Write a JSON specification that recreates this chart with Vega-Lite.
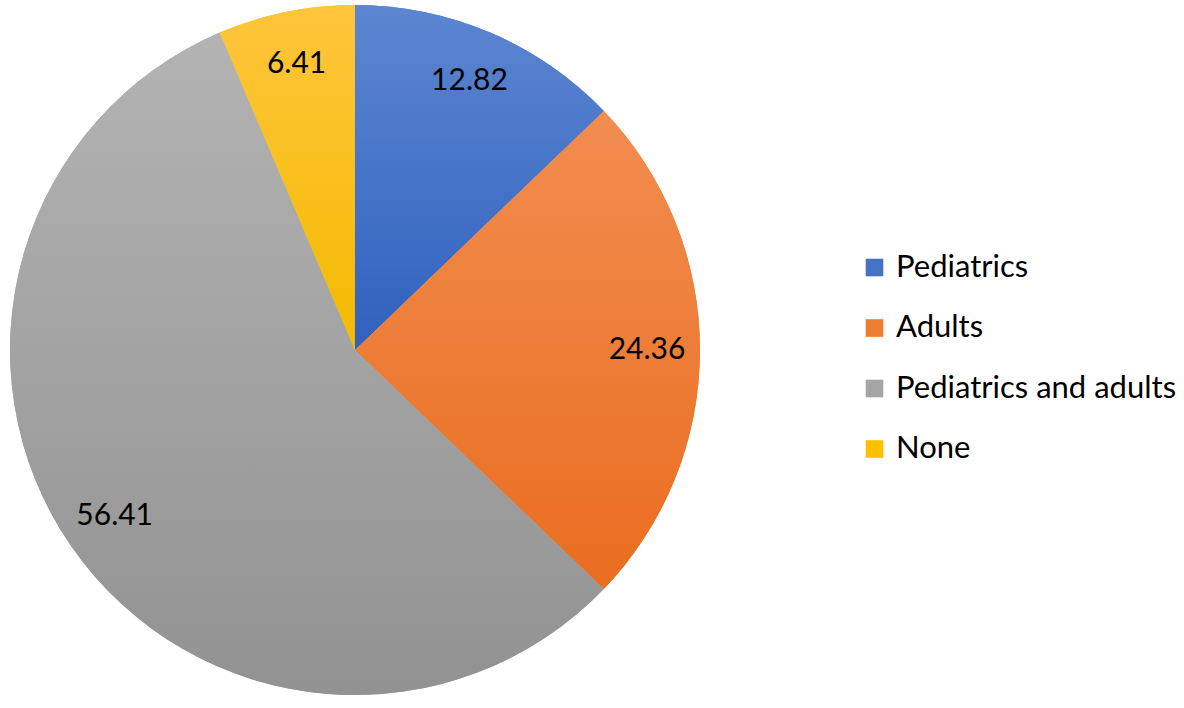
{
  "$schema": "https://vega.github.io/schema/vega-lite/v6.json",
  "width": 710,
  "height": 700,
  "padding": 0,
  "background": "white",
  "data": {
    "values": [
      {"category": "Pediatrics", "value": 12.82, "idx": 1},
      {"category": "Adults", "value": 24.36, "idx": 2},
      {"category": "Pediatrics and adults", "value": 56.41, "idx": 3},
      {"category": "None", "value": 6.41, "idx": 4}
    ]
  },
  "encoding": {
    "theta": {"field": "value", "type": "quantitative", "stack": true},
    "order": {"field": "idx", "type": "quantitative"}
  },
  "layer": [
    {
      "mark": {"type": "arc", "outerRadius": 345},
      "encoding": {
        "color": {
          "field": "category",
          "type": "nominal",
          "scale": {
            "domain": ["Pediatrics", "Adults", "Pediatrics and adults", "None"],
            "range": ["#4472C4", "#ED7D31", "#A5A5A5", "#FFC000"]
          },
          "legend": {
            "title": null,
            "orient": "none",
            "legendX": 859,
            "legendY": 252,
            "padding": 0,
            "symbolType": "square",
            "symbolSize": 310,
            "symbolStrokeWidth": 0,
            "labelFont": "Lato",
            "labelFontSize": 31,
            "labelColor": "#000000",
            "labelOffset": 6,
            "rowPadding": 28.5,
            "labelLimit": 400
          }
        }
      }
    },
    {
      "mark": {"type": "arc", "outerRadius": 345},
      "encoding": {
        "fill": {
          "condition": [
            {"test": "datum.category === 'Pediatrics'", "value": {"gradient": "linear", "x1": 0, "y1": 0, "x2": 0, "y2": 1, "stops": [{"offset": 0, "color": "#5C86D1"}, {"offset": 1, "color": "#2F61BD"}]}},
            {"test": "datum.category === 'Adults'", "value": {"gradient": "linear", "x1": 0, "y1": 0, "x2": 0, "y2": 1, "stops": [{"offset": 0, "color": "#F28D50"}, {"offset": 1, "color": "#E96D1F"}]}},
            {"test": "datum.category === 'Pediatrics and adults'", "value": {"gradient": "linear", "x1": 0, "y1": 0, "x2": 0, "y2": 1, "stops": [{"offset": 0, "color": "#B3B3B3"}, {"offset": 1, "color": "#929292"}]}}
          ],
          "value": {"gradient": "linear", "x1": 0, "y1": 0, "x2": 0, "y2": 1, "stops": [{"offset": 0, "color": "#FFC53C"}, {"offset": 1, "color": "#F2BA00"}]}
        }
      }
    },
    {
      "mark": {"type": "text", "radius": 292, "font": "Lato", "fontSize": 30, "color": "#000000"},
      "encoding": {
        "text": {"field": "value", "type": "quantitative", "format": ".2f"}
      }
    }
  ]
}
